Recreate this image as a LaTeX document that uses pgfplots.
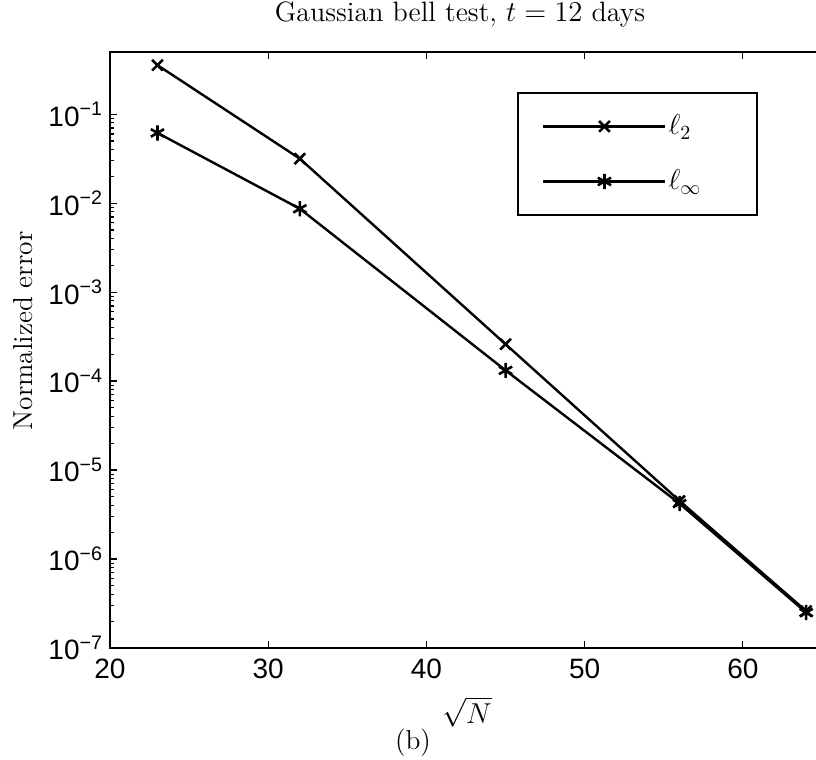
\documentclass[border=0pt]{standalone}
\usepackage{fontspec}
\usepackage{pgfplots}
\pgfplotsset{compat=1.18}
\newfontfamily\arial{Liberation Sans}
\newcommand{\tfont}{\arial\fontsize{14}{16}\selectfont}
\newcommand{\lfont}{\fontsize{13.7}{16}\selectfont}
\begin{document}
\begin{tikzpicture}[x=1pt,y=1pt]
\path[use as bounding box] (0,0) rectangle (408,380);
\begin{axis}[
  at={(55pt,56pt)}, anchor=south west,
  scale only axis, width=356pt, height=298pt,
  xmin=20, xmax=65,
  ymode=log, ymin=1e-7, ymax=0.5,
  xtick={20,30,40,50,60},
  xticklabels={20,30,40,50,60},
  ytick={1e-7,1e-6,1e-5,1e-4,1e-3,1e-2,1e-1},
  yticklabels={10\textsuperscript{−7},10\textsuperscript{−6},10\textsuperscript{−5},10\textsuperscript{−4},10\textsuperscript{−3},10\textsuperscript{−2},10\textsuperscript{−1}},
  ytick pos=left,
  tick label style={font=\tfont},
  xticklabel style={yshift=-2pt},
  tick align=inside,
  major tick length=3.5pt, minor tick length=2pt,
  axis line style={line width=0.8pt},
  every tick/.style={black, line width=0.6pt},
  legend style={at={(0.572,0.933)}, anchor=north west, draw=black, line width=1pt,
    inner xsep=12pt, inner ysep=10pt, row sep=14pt, font=\lfont,
    nodes={inner sep=1pt}},
  legend cell align=left,
  legend image code/.code={
    \draw[mark repeat=2,mark phase=2] plot coordinates {(0pt,0pt) (30.5pt,0pt) (61pt,0pt)};
  },
]
\addplot[black, line width=1.2pt, mark=x, mark size=3.8pt, mark options={solid, line width=1.3pt}]
  coordinates {(23,0.356) (32,0.0316) (45,2.6e-4) (56,4.5e-6) (64,2.6e-7)};
\addlegendentry{\makebox[31pt][l]{$\ell_2$}}
\addplot[black, line width=1.2pt, mark=asterisk, mark size=3.8pt, mark options={solid, line width=1.3pt}]
  coordinates {(23,0.0616) (32,0.00865) (45,1.32e-4) (56,4.2e-6) (64,2.5e-7)};
\addlegendentry{\makebox[31pt][l]{$\ell_\infty$}}
\end{axis}
\node[font=\fontsize{14}{16}\selectfont] at (230,372.5) {Gaussian bell test, $t=12$ days};
\node[font=\lfont, rotate=90] at (11.5,214.5) {Normalized error};
\node[font=\lfont] at (233.5,24) {$\sqrt{N}$};
\node[font=\lfont] at (206.5,8.5) {(b)};
\end{tikzpicture}
\end{document}
